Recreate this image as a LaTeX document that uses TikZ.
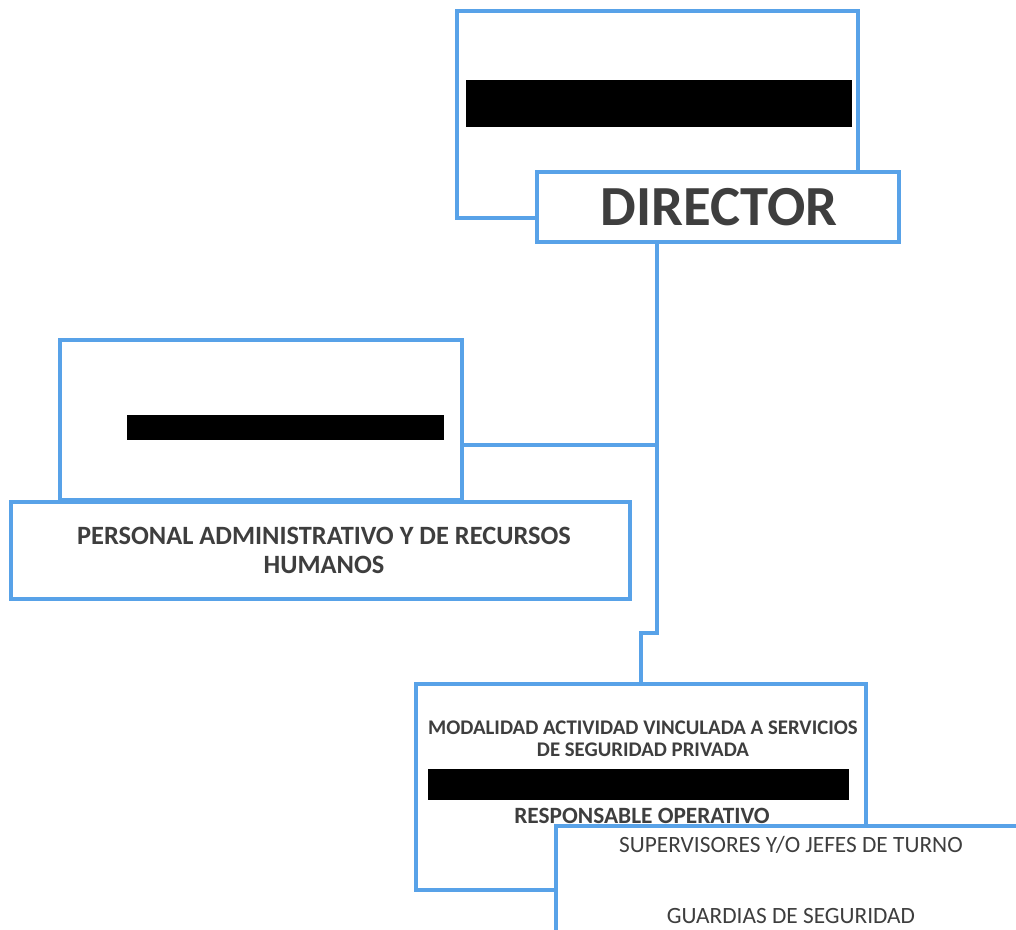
\documentclass[tikz,border=0pt]{standalone}
\usepackage{fontspec}
\setmainfont{Carlito}
\definecolor{lineblue}{RGB}{88,162,232}
\definecolor{txtgray}{RGB}{62,62,62}
\tikzset{
  orgbox/.style={draw=lineblue, line width=3.3pt, fill=white, rectangle, inner sep=0pt, line join=miter},
  redact/.style={fill=black, draw=none, rectangle, inner sep=0pt},
  conn/.style={draw=lineblue, line width=3.3pt, line join=miter},
  boldtxt/.style={text=txtgray, font=\bfseries, inner sep=0pt, anchor=center},
  regtxt/.style={text=txtgray, inner sep=0pt, anchor=center}
}
\begin{document}
\begin{tikzpicture}[x=0.75pt,y=-0.75pt]
\clip (0,0) rectangle (1016,929);
\useasboundingbox (0,0) rectangle (1016,929);
\fill[white] (0,0) rectangle (1016,929);
% connectors (behind boxes)
\coordinate (spine) at (657,445);
\coordinate (j1) at (657,633);
\coordinate (j2) at (641,633);
% top group
\node[orgbox, minimum width=401*0.75pt, minimum height=207*0.75pt] (jefe) at (657.5,114.5) {};
\node[redact, minimum width=386*0.75pt, minimum height=47*0.75pt] (bar1) at (659,103.5) {};
\node[orgbox, minimum width=362*0.75pt, minimum height=70*0.75pt] (dir) at (718,207) {};
\node[boldtxt, font=\fontsize{42.5pt}{46pt}\selectfont\bfseries] (dirt) at (719,207) {DIRECTOR};
% admin group
\node[orgbox, minimum width=402*0.75pt, minimum height=160*0.75pt] (admin) at (261,420) {};
\node[redact, minimum width=317*0.75pt, minimum height=25*0.75pt] (bar2) at (285.5,427.5) {};
\node[orgbox, minimum width=619*0.75pt, minimum height=97*0.75pt] (pers) at (320.5,550.5) {};
\node[boldtxt, font=\fontsize{19.8pt}{22pt}\selectfont\bfseries] (pers1) at (324,536) {PERSONAL ADMINISTRATIVO Y DE RECURSOS};
\node[boldtxt, font=\fontsize{19.8pt}{22pt}\selectfont\bfseries] (pers2) at (324,565) {HUMANOS};
% modalidad group
\node[orgbox, minimum width=450*0.75pt, minimum height=206*0.75pt] (mod) at (641,787) {};
\node[boldtxt, font=\fontsize{15.6pt}{18pt}\selectfont\bfseries] (mod1) at (643,728) {MODALIDAD ACTIVIDAD VINCULADA A SERVICIOS};
\node[boldtxt, font=\fontsize{15.6pt}{18pt}\selectfont\bfseries] (mod2) at (643,750) {DE SEGURIDAD PRIVADA};
\node[redact, minimum width=421*0.75pt, minimum height=31*0.75pt] (bar3) at (638.5,784.5) {};
\node[boldtxt, font=\fontsize{17.5pt}{20pt}\selectfont\bfseries] (resp) at (642,816) {RESPONSABLE OPERATIVO};
\node[orgbox, minimum width=484*0.75pt, minimum height=134*0.75pt] (sup) at (798,893) {};
\node[regtxt, font=\fontsize{17.5pt}{20pt}\selectfont] (sup1) at (791,845) {SUPERVISORES Y/O JEFES DE TURNO};
\node[regtxt, font=\fontsize{17.5pt}{20pt}\selectfont] (guard) at (791,916) {GUARDIAS DE SEGURIDAD};
% connectors
\draw[conn] (dir.south -| j1) -- (j1) -- (j2) -- (j2 |- mod.north);
\draw[conn] (spine) -- (spine -| admin.east);
\end{tikzpicture}
\end{document}
